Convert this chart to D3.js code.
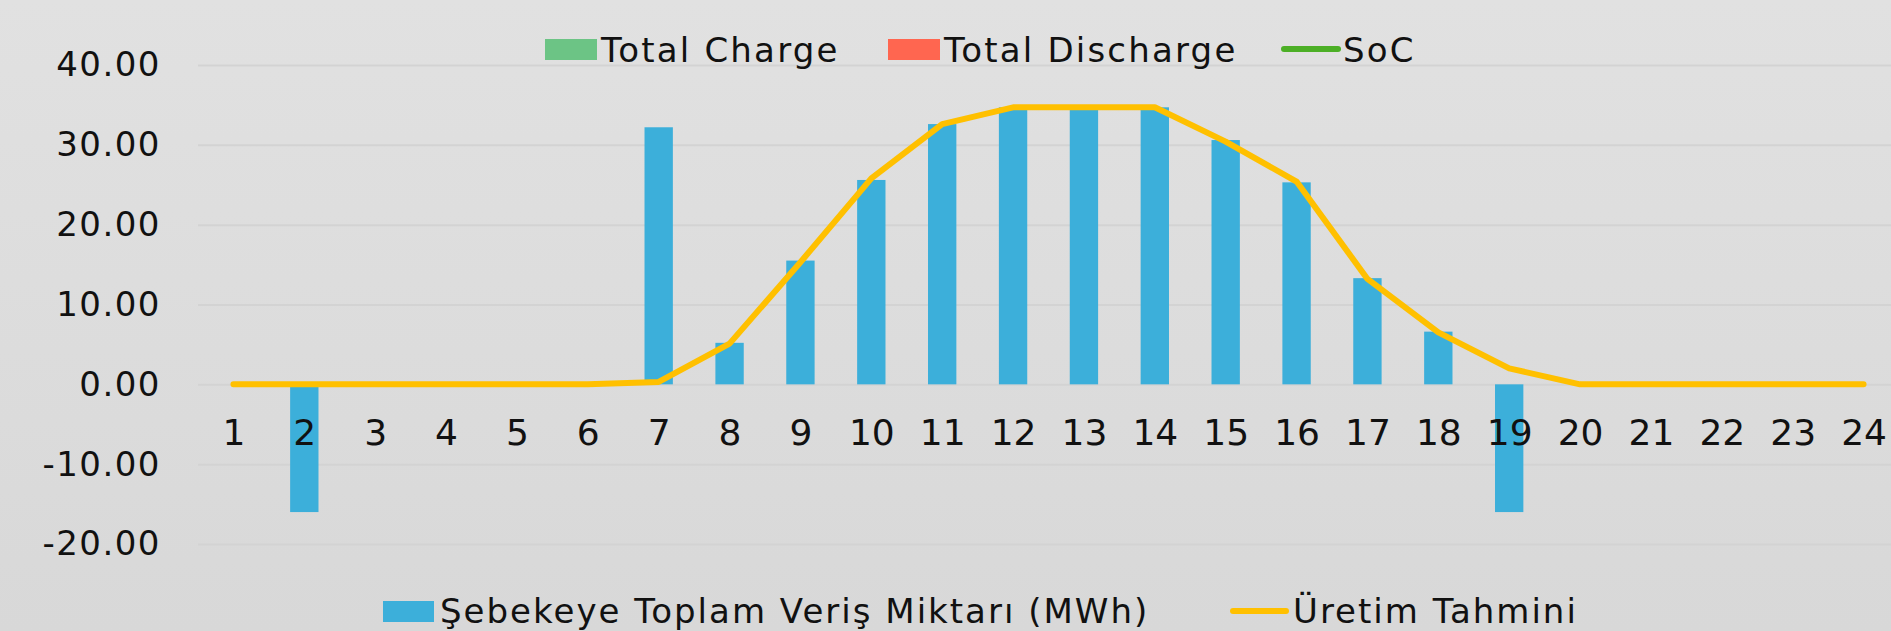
<!DOCTYPE html>
<html>
<head>
<meta charset="utf-8">
<script src="https://cdnjs.cloudflare.com/ajax/libs/d3/7.8.5/d3.min.js"></script>
<style>
  body { margin: 0; overflow: hidden; }
  text { font-family: "DejaVu Sans", sans-serif; fill: #111; }
</style>
</head>
<body>
<script>
  // saat (hour) categories
  const hours = [1, 2, 3, 4, 5, 6, 7, 8, 9, 10, 11, 12, 13, 14, 15, 16, 17, 18, 19, 20, 21, 22, 23, 24];
  // Şebekeye Toplam Veriş Miktarı (MWh)
  const gridSupply = [0, -16, 0, 0, 0, 0, 32.2, 5.2, 15.5, 25.6, 32.6, 34.7, 34.7, 34.7, 30.6, 25.3, 13.3, 6.6, -16, 0, 0, 0, 0, 0];
  // Üretim Tahmini
  const forecast = [0, 0, 0, 0, 0, 0, 0.3, 5.1, 15.3, 25.8, 32.6, 34.7, 34.7, 34.7, 30.4, 25.4, 13.2, 6.5, 2.0, 0, 0, 0, 0, 0];
  const yTicks = [-20, -10, 0, 10, 20, 30, 40];
  const topLegend = ["Total Charge", "Total Discharge", "SoC"];
  const bottomLegend = ["Şebekeye Toplam Veriş Miktarı (MWh)", "Üretim Tahmini"];

  const w = 1891, h = 631;
  const left = 198, right = 1899;
  const font = "\"DejaVu Sans\", sans-serif";

  const svg = d3.select("body").append("svg")
    .attr("width", w)
    .attr("height", h);

  const grad = svg.append("defs").append("linearGradient")
    .attr("id", "bg").attr("x1", 0).attr("y1", 0).attr("x2", 0).attr("y2", 1);
  grad.append("stop").attr("offset", "0%").attr("stop-color", "#e1e1e1");
  grad.append("stop").attr("offset", "100%").attr("stop-color", "#d8d8d8");
  svg.append("rect").attr("width", w).attr("height", h).attr("fill", "url(#bg)");

  const x = d3.scalePoint()
    .domain(hours)
    .range([left, right])
    .padding(0.5);
  const barW = x.step() * 0.4;

  const y = d3.scaleLinear()
    .domain([-20, 40])
    .range([544, 65]);

  // y axis + gridlines (plain hyphen for negatives, like the original)
  const yAxis = svg.append("g")
    .attr("transform", "translate(" + left + ",0)")
    .call(d3.axisLeft(y).tickValues(yTicks).tickFormat(d => d.toFixed(2))
      .tickSize(-(w - left)).tickPadding(37));
  yAxis.select(".domain").remove();
  yAxis.selectAll("line").attr("stroke", "#d3d3d3").attr("stroke-width", 2);
  yAxis.selectAll("text").style("font-size", "34px").style("font-family", font)
    .attr("fill", "#111").attr("letter-spacing", 1.5);

  // bars
  svg.selectAll("rect.bar")
    .data(gridSupply)
    .enter()
    .append("rect")
    .attr("class", "bar")
    .attr("x", (d, i) => x(hours[i]) - barW / 2)
    .attr("y", d => y(Math.max(0, d)))
    .attr("width", barW)
    .attr("height", d => Math.abs(y(d) - y(0)))
    .attr("fill", "#3cafda");

  // x axis labels
  const xAxis = svg.append("g")
    .attr("transform", "translate(0," + y(0) + ")")
    .call(d3.axisBottom(x).tickSize(0).tickPadding(35));
  xAxis.select(".domain").remove();
  xAxis.selectAll("text").style("font-size", "36px").style("font-family", font).attr("fill", "#111");

  // forecast line
  const line = d3.line()
    .x((d, i) => x(hours[i]))
    .y(d => y(d));
  svg.append("path")
    .datum(forecast)
    .attr("d", line)
    .attr("fill", "none")
    .attr("stroke", "#ffc000")
    .attr("stroke-width", 6)
    .attr("stroke-linejoin", "round")
    .attr("stroke-linecap", "round");

  // top legend
  const tl = svg.append("g").style("font-size", "34px").attr("letter-spacing", 2.2);
  tl.append("rect").attr("x", 545).attr("y", 39).attr("width", 52).attr("height", 21).attr("fill", "#6cc485");
  tl.append("text").attr("x", 601).attr("y", 62).text(topLegend[0]);
  tl.append("rect").attr("x", 888).attr("y", 39).attr("width", 52).attr("height", 21).attr("fill", "#ff6650");
  tl.append("text").attr("x", 944).attr("y", 62).text(topLegend[1]);
  tl.append("line").attr("x1", 1284).attr("x2", 1338).attr("y1", 49).attr("y2", 49)
    .attr("stroke", "#4caf26").attr("stroke-width", 6).attr("stroke-linecap", "round");
  tl.append("text").attr("x", 1343).attr("y", 62).text(topLegend[2]);

  // bottom legend
  const bl = svg.append("g").style("font-size", "34px").attr("letter-spacing", 2);
  bl.append("rect").attr("x", 383).attr("y", 601).attr("width", 51).attr("height", 21).attr("fill", "#3cafda");
  bl.append("text").attr("x", 440).attr("y", 623).text(bottomLegend[0]);
  bl.append("line").attr("x1", 1233).attr("x2", 1286).attr("y1", 611).attr("y2", 611)
    .attr("stroke", "#ffc000").attr("stroke-width", 6).attr("stroke-linecap", "round");
  bl.append("text").attr("x", 1293).attr("y", 623).text(bottomLegend[1]);
</script>
</body>
</html>
